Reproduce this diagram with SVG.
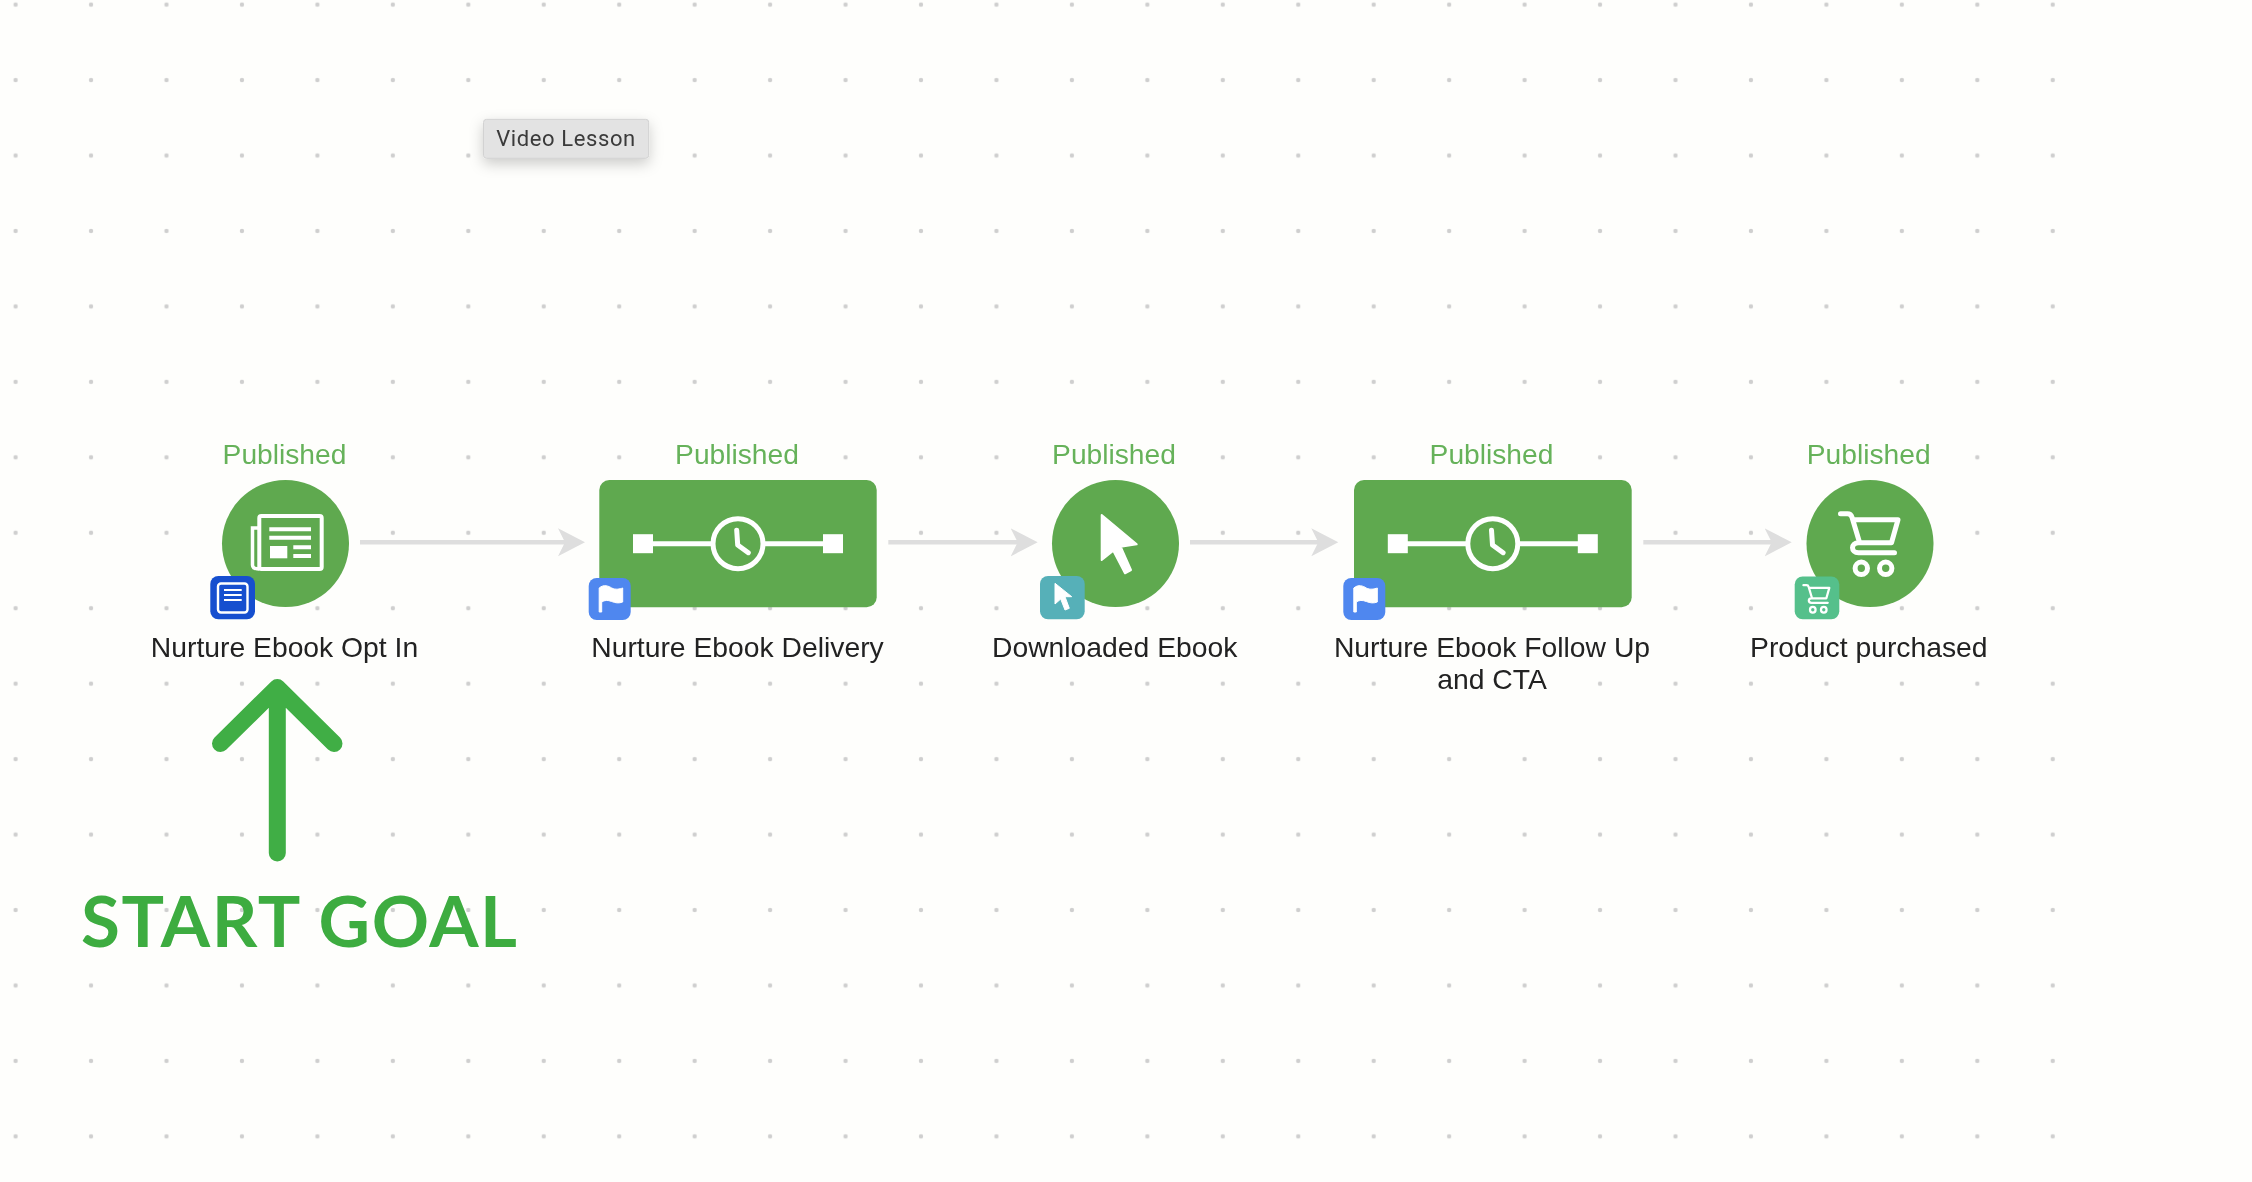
<svg xmlns="http://www.w3.org/2000/svg" xmlns:xlink="http://www.w3.org/1999/xlink" width="2252" height="1182" viewBox="0 0 2252 1182">
<style>
.pub{font:28.2px "Liberation Sans",Arial,sans-serif;fill:#66b25a;text-anchor:middle}
.lbl{font:28.3px "Liberation Sans",Arial,sans-serif;fill:#222;text-anchor:middle}
.node{fill:#5fa94f}
.bg{fill:#fefefc}
.conn{stroke:#dedede;stroke-width:4.5;fill:none;marker-end:url(#head)}
.ico{fill:none;stroke:#fff;stroke-width:5;stroke-linecap:round;stroke-linejoin:round}
.wf{fill:#fff}
</style>
<defs>
<pattern id="dots" patternUnits="userSpaceOnUse" x="-22.1" y="-33.1" width="75.45" height="75.45"><circle cx="37.72" cy="37.72" r="2.2" fill="#cfcfcf"/></pattern>
<marker id="head" markerUnits="userSpaceOnUse" markerWidth="28" markerHeight="29" refX="21" refY="14" orient="auto"><polygon points="0,0 27,14 0,28 7,14" fill="#dedede"/></marker>
<filter id="sh" x="-30%" y="-50%" width="160%" height="220%"><feDropShadow dx="0" dy="5" stdDeviation="7" flood-color="#000" flood-opacity="0.2"/></filter>
<filter id="soft" filterUnits="userSpaceOnUse" x="0" y="0" width="2252" height="1182"><feGaussianBlur stdDeviation="0.6"/></filter>
<g id="delay">
<rect x="-105" y="-9.5" width="20" height="19" class="wf"/>
<rect x="85" y="-9.5" width="20" height="19" class="wf"/>
<path d="M-90 0H-25M25 0H90" stroke="#fff" stroke-width="5" fill="none"/>
<circle r="25" fill="none" stroke="#fff" stroke-width="5"/>
<path d="M-1.3 -13.5 L-0.3 1.3 L10.3 9" class="ico"/>
</g>
<g id="flag">
<rect width="42" height="42" rx="8" fill="#4f87ef"/>
<path d="M10.5 34V10C15 6 20 8 23 10C27 12 31 11 34 10V24C30 25.5 27 25 23 23.5C19 22 16 22 13 24V34Z" class="wf" stroke="#fff" stroke-width="1" stroke-linejoin="round"/>
</g>
<g id="cart">
<path d="M-29.5 -29.5H-22.5Q-19 -29.5 -18 -26L-10.5 -1M-16.5 -23.5H28L21.5 -0.5H-11.5C-19.5 -0.5 -19.5 9.5 -11.5 9.5H24.5" class="ico"/>
<circle cx="-8.7" cy="25" r="6.2" class="ico"/>
<circle cx="15.7" cy="25" r="6.2" class="ico"/>
</g>
</defs>

<rect id="background" width="2252" height="1182" class="bg"/>
<rect id="grid" width="2090" height="1175" fill="url(#dots)"/>

<g id="connectors" filter="url(#soft)">
<line class="conn" x1="360" y1="542.3" x2="579" y2="542.3"/>
<line class="conn" x1="888.3" y1="542.3" x2="1031.7" y2="542.3"/>
<line class="conn" x1="1190" y1="542.3" x2="1332.3" y2="542.3"/>
<line class="conn" x1="1643.3" y1="542.3" x2="1785.7" y2="542.3"/>
</g>

<g id="node-optin" filter="url(#soft)">
<rect class="bg" x="222" y="440" width="127" height="32"/>
<text class="pub" x="284.5" y="464">Published</text>
<circle class="node" cx="285.5" cy="543.5" r="63.5"/>
<rect x="259.3" y="516" width="62.4" height="53" rx="2" fill="none" stroke="#fff" stroke-width="4"/>
<path d="M259 528H252.5V565Q252.5 569 259 569" fill="none" stroke="#fff" stroke-width="3.5"/>
<path d="M269.3 529.3H311M269.3 537.7H311M293.3 547.3H311M293.3 556H311" stroke="#fff" stroke-width="4" fill="none"/>
<rect x="270" y="546" width="17.3" height="12.3" class="wf"/>
<rect x="210.3" y="576" width="44.7" height="43.3" rx="8" fill="#1550cf"/>
<rect x="218" y="583.5" width="29.5" height="29" rx="3" fill="none" stroke="#fff" stroke-width="2.4"/>
<path d="M224 590H241.7M224 595H241.7M224 600H241.7" stroke="#fff" stroke-width="2.2" fill="none"/>
<text class="lbl" x="284.5" y="656.7">Nurture Ebook Opt In</text>
</g>

<g id="node-delivery" filter="url(#soft)">
<rect class="bg" x="673" y="440" width="128" height="32"/>
<text class="pub" x="737" y="464">Published</text>
<rect class="node" x="599.3" y="480" width="277.4" height="127.3" rx="10"/>
<use xlink:href="#delay" href="#delay" x="738" y="543.7"/>
<use xlink:href="#flag" href="#flag" x="588.7" y="578"/>
<text class="lbl" x="737.5" y="656.7">Nurture Ebook Delivery</text>
</g>

<g id="node-download" filter="url(#soft)">
<rect class="bg" x="1050" y="440" width="128" height="32"/>
<text class="pub" x="1114" y="464">Published</text>
<circle class="node" cx="1115.5" cy="543.5" r="63.5"/>
<polygon points="1101.7,515 1136.7,544.3 1120.7,546.7 1131,570 1125,573.3 1113.3,550.7 1101.7,560" class="wf" stroke="#fff" stroke-width="2" stroke-linejoin="round"/>
<rect x="1040" y="576" width="44.7" height="43.3" rx="8" fill="#56b0b8"/>
<polygon points="1055,583.3 1071.7,596.7 1065,596.7 1069.3,608.3 1065,610 1060.7,599 1055,604" class="wf" stroke="#fff" stroke-width="1" stroke-linejoin="round"/>
<text class="lbl" x="1114.7" y="656.7">Downloaded Ebook</text>
</g>

<g id="node-followup" filter="url(#soft)">
<rect class="bg" x="1427" y="440" width="128" height="32"/>
<text class="pub" x="1491.5" y="464">Published</text>
<rect class="node" x="1354" y="480" width="277.7" height="127.3" rx="10"/>
<use xlink:href="#delay" href="#delay" x="1492.8" y="543.7"/>
<use xlink:href="#flag" href="#flag" x="1343.3" y="578"/>
<rect class="bg" x="1440" y="665" width="105" height="32"/>
<text class="lbl" x="1492" y="656.7">Nurture Ebook Follow Up</text>
<text class="lbl" x="1492" y="689.3">and CTA</text>
</g>

<g id="node-product" filter="url(#soft)">
<rect class="bg" x="1805" y="440" width="128" height="32"/>
<text class="pub" x="1868.7" y="464">Published</text>
<circle class="node" cx="1870" cy="543.5" r="63.5"/>
<use xlink:href="#cart" href="#cart" x="1870" y="543.3"/>
<rect x="1794.7" y="576.5" width="44.6" height="42.8" rx="8" fill="#55c08b"/>
<use xlink:href="#cart" href="#cart" transform="translate(1816.7 598.5) scale(.45)"/>
<text class="lbl" x="1868.8" y="656.7">Product purchased</text>
</g>

<g id="video-lesson" filter="url(#soft)">
<rect x="483.5" y="119.3" width="165.2" height="39" rx="3" fill="#e3e3e3" stroke="#d2d2d2" filter="url(#sh)"/>
<text x="566" y="145.7" font-family="Roboto,sans-serif" font-size="22" letter-spacing="0.6" fill="#3a3a3a" text-anchor="middle">Video Lesson</text>
</g>

<g id="start-goal" filter="url(#soft)">
<path d="M277.3 853V688M220.5 743.5L277.3 687.5L334 743.5" fill="none" stroke="#3fae44" stroke-width="17" stroke-linecap="round" stroke-linejoin="round"/>
<text x="81" y="946.5" font-family="Lato,sans-serif" font-weight="700" font-size="71" fill="#3cac40" textLength="436">START GOAL</text>
</g>
</svg>
